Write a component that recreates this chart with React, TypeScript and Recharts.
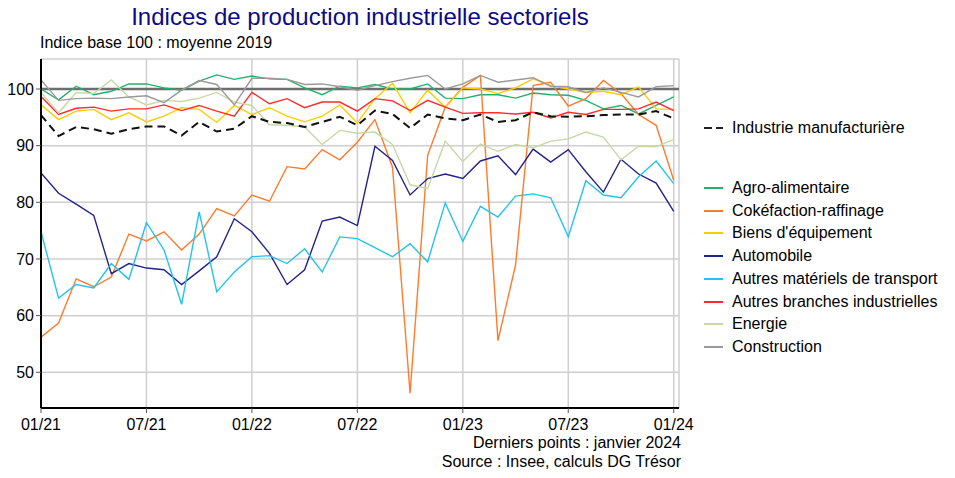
import React from 'react';
import {
  LineChart, Line, XAxis, YAxis, CartesianGrid, ReferenceLine,
} from 'recharts';

// ── Data (monthly, 01/21 → 01/24) ─────────────────────────────
const xTickLabels = ['01/21', '07/21', '01/22', '07/22', '01/23', '07/23', '01/24'];
const xTicks = [0, 6, 12, 18, 24, 30, 36];
const yTicks = [50, 60, 70, 80, 90, 100];

const industrie = [95.4, 91.7, 93.3, 92.9, 92.1, 92.9, 93.4, 93.4, 91.8, 94.2, 92.5, 93.0, 95.2, 94.2, 94.0, 93.3, 94.2, 95.1, 93.6, 96.2, 95.6, 93.1, 95.5, 94.8, 94.5, 95.5, 94.2, 94.5, 95.9, 95.2, 95.1, 95.2, 95.4, 95.5, 95.5, 96.1, 94.8];
const agro = [100.0, 98.1, 100.5, 99.0, 99.6, 100.9, 100.9, 100.2, 99.8, 101.4, 102.5, 101.7, 102.3, 101.8, 101.7, 100.2, 99.0, 100.5, 100.2, 100.8, 100.0, 100.0, 100.9, 98.4, 98.3, 99.0, 99.0, 98.4, 99.3, 99.0, 98.9, 98.0, 96.5, 97.1, 95.6, 97.1, 98.6];
const coke = [56.2, 58.7, 66.5, 65.1, 66.8, 74.4, 73.2, 74.8, 71.6, 74.4, 78.9, 77.6, 81.3, 80.2, 86.3, 85.9, 89.3, 87.5, 90.6, 94.6, 86.2, 46.3, 88.3, 96.8, 100.3, 102.4, 55.6, 68.9, 100.6, 101.2, 97.0, 98.3, 101.5, 99.2, 95.5, 93.6, 83.9];
const biens = [97.2, 94.6, 96.1, 96.4, 94.6, 95.8, 94.2, 95.2, 96.7, 96.4, 94.1, 97.1, 95.5, 96.7, 95.2, 94.2, 95.2, 97.2, 94.0, 98.3, 101.0, 95.8, 99.8, 96.8, 100.2, 100.0, 99.2, 100.2, 101.8, 100.6, 100.0, 99.4, 99.6, 99.0, 100.4, 96.5, 96.4];
const auto = [85.2, 81.6, 79.7, 77.7, 67.4, 69.2, 68.4, 68.1, 65.5, 67.9, 70.4, 77.1, 74.8, 71.0, 65.5, 68.1, 76.7, 77.4, 75.9, 89.9, 87.4, 81.3, 84.2, 85.0, 84.2, 87.3, 88.2, 84.9, 89.4, 87.1, 89.3, 85.4, 81.8, 87.6, 85.0, 83.4, 78.4];
const autresMat = [74.8, 63.1, 65.5, 64.9, 69.2, 66.4, 76.4, 71.6, 62.0, 78.3, 64.2, 67.7, 70.4, 70.6, 69.2, 71.8, 67.7, 73.9, 73.6, 72.0, 70.4, 72.7, 69.5, 79.9, 73.1, 79.3, 77.4, 81.1, 81.5, 80.8, 73.9, 83.8, 81.3, 80.8, 84.5, 87.3, 83.3];
const autresBr = [98.7, 95.5, 96.6, 96.8, 96.1, 96.5, 96.5, 97.2, 96.2, 97.1, 96.1, 95.2, 99.4, 97.4, 98.3, 96.7, 97.7, 97.7, 96.1, 98.3, 97.9, 96.2, 98.0, 96.8, 95.7, 95.8, 95.8, 95.6, 95.9, 94.9, 95.9, 95.5, 96.4, 96.4, 96.5, 97.7, 96.2];
const energie = [99.4, 95.8, 99.4, 99.2, 101.6, 98.6, 97.2, 98.0, 97.8, 98.4, 99.4, 97.7, 97.1, 93.7, 93.6, 93.3, 90.2, 92.7, 92.2, 92.4, 90.2, 83.1, 82.4, 90.8, 87.2, 90.3, 89.0, 90.2, 89.6, 90.8, 91.2, 92.4, 91.5, 87.5, 89.9, 89.8, 91.1];
const construction = [101.6, 98.0, 98.3, 98.4, 98.3, 98.6, 98.8, 97.6, 99.8, 101.5, 100.8, 97.2, 101.9, 101.9, 101.7, 100.8, 100.9, 100.4, 99.8, 100.6, 101.3, 101.9, 102.4, 100.0, 100.9, 102.4, 101.2, 101.6, 102.0, 100.5, 100.4, 99.4, 100.2, 99.4, 98.6, 100.4, 100.6];

const series = [
  { key: 'agro', name: 'Agro-alimentaire', color: '#22b16a' },
  { key: 'coke', name: 'Cokéfaction-raffinage', color: '#ff7a2a' },
  { key: 'biens', name: "Biens d'équipement", color: '#ffcc00' },
  { key: 'auto', name: 'Automobile', color: '#22228c' },
  { key: 'autresMat', name: 'Autres matériels de transport', color: '#22c2f2' },
  { key: 'autresBr', name: 'Autres branches industrielles', color: '#ff2a2a' },
  { key: 'energie', name: 'Energie', color: '#c6d9a6' },
  { key: 'construction', name: 'Construction', color: '#9a9a9a' },
];

const data = industrie.map((v, i) => ({
  m: i,
  industrie: v,
  agro: agro[i],
  coke: coke[i],
  biens: biens[i],
  auto: auto[i],
  autresMat: autresMat[i],
  autresBr: autresBr[i],
  energie: energie[i],
  construction: construction[i],
}));

const FONT = '"Liberation Sans", Arial, sans-serif';
const tickStyle = { fontSize: 16, fill: '#000', fontFamily: FONT };

// ── Legend ────────────────────────────────────────────────────
function SideLegend() {
  const row = (key: string, label: string, swatch: React.ReactNode, top: number) => (
    <div key={key} style={{ position: 'absolute', left: 0, top, height: 20, display: 'flex', alignItems: 'center' }}>
      <svg width={28} height={20}>{swatch}</svg>
      <span style={{ fontSize: 16, lineHeight: '20px', whiteSpace: 'nowrap' }}>{label}</span>
    </div>
  );
  return (
    <div style={{ position: 'absolute', left: 704, top: 118, fontFamily: FONT, color: '#000' }}>
      {row('industrie', 'Industrie manufacturière',
        <line x1={0} x2={19} y1={10} y2={10} stroke="#222" strokeWidth={2} strokeDasharray="8 4" />, 0)}
      {series.map((s, i) =>
        row(s.key, s.name, <line x1={0} x2={19} y1={10} y2={10} stroke={s.color} strokeWidth={2} />, 60 + i * 22.7),
      )}
    </div>
  );
}

export default function App() {
  return (
    <div style={{ position: 'absolute', left: 0, top: 0, width: 955, height: 478, background: '#fff', fontFamily: FONT }}>
      <div style={{ position: 'absolute', left: 0, width: 720, top: 3, textAlign: 'center', fontSize: 24, lineHeight: '28px', color: '#0a0a8a' }}>
        Indices de production industrielle sectoriels
      </div>
      <div style={{ position: 'absolute', left: 40, top: 33, fontSize: 16, lineHeight: '20px', color: '#000' }}>
        Indice base 100 : moyenne 2019
      </div>

      <LineChart width={955} height={478} data={data} margin={{ top: 59, right: 276, bottom: 40, left: 0 }}>
        <CartesianGrid stroke="#cfcfcf" strokeWidth={1.5} />
        <XAxis
          xAxisId={0}
          type="number"
          dataKey="m"
          domain={[0, 36.3]}
          ticks={xTicks}
          allowDataOverflow
          height={30}
          tickFormatter={(v: number) => xTickLabels[xTicks.indexOf(v)]}
          tick={tickStyle}
          tickSize={5}
          tickMargin={6}
          axisLine={{ stroke: '#000', strokeWidth: 2 }}
          tickLine={{ stroke: '#555' }}
        />
        <XAxis xAxisId="top" orientation="top" type="number" dataKey="m" domain={[0, 36.3]} height={0} tick={false} tickLine={false} axisLine={{ stroke: '#000', strokeWidth: 2 }} />
        <YAxis
          yAxisId={0}
          type="number"
          domain={[43.7, 105.3]}
          ticks={yTicks}
          allowDataOverflow
          width={41}
          tick={tickStyle}
          tickSize={5}
          tickMargin={2}
          axisLine={{ stroke: '#000', strokeWidth: 2 }}
          tickLine={{ stroke: '#555' }}
        />
        <YAxis yAxisId="right" orientation="right" type="number" domain={[43.7, 105.3]} width={0} tick={false} tickLine={false} axisLine={{ stroke: '#000', strokeWidth: 2 }} />
        <ReferenceLine y={100} stroke="#6e6e6e" strokeWidth={2.5} />
        {series.map((s) => (
          <Line
            key={s.key}
            type="linear"
            dataKey={s.key}
            stroke={s.color}
            strokeWidth={1.4}
            dot={false}
            isAnimationActive={false}
          />
        ))}
        <Line type="linear" dataKey="industrie" stroke="#111" strokeWidth={2} strokeDasharray="8 5" dot={false} isAnimationActive={false} />
      </LineChart>

      <SideLegend />

      <div style={{ position: 'absolute', right: 955 - 681, top: 433, textAlign: 'right', fontSize: 16, lineHeight: '19px', color: '#000', whiteSpace: 'nowrap' }}>
        <div>Derniers points : janvier 2024</div>
        <div>Source : Insee, calculs DG Trésor</div>
      </div>
    </div>
  );
}
